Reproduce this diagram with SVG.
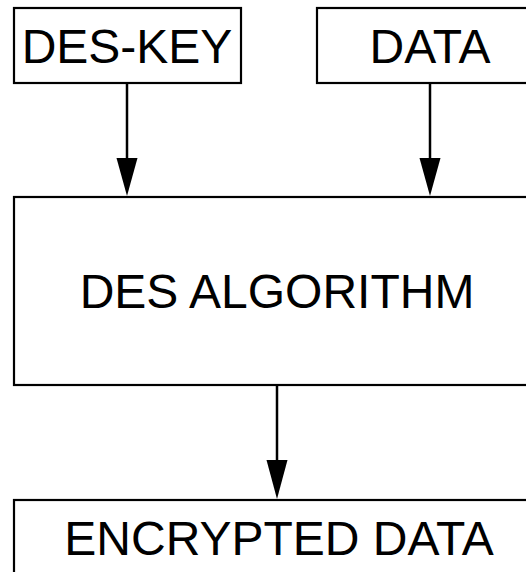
<svg xmlns="http://www.w3.org/2000/svg" width="526" height="572" viewBox="0 0 526 572">
  <style>
    .box { fill: #ffffff; stroke: #000000; stroke-width: 2.2; }
    .label { font-family: "Liberation Sans", Arial, sans-serif; font-size: 48px; fill: #000000; text-anchor: middle; }
    .wire { stroke: #000000; stroke-width: 2.5; fill: none; }
    .head { fill: #000000; stroke: none; }
  </style>
  <rect width="526" height="572" fill="#ffffff"/>

  <g id="des-key">
    <rect class="box" x="14" y="8" width="227" height="75"/>
    <text class="label" x="127" y="63">DES-KEY</text>
  </g>

  <g id="data">
    <rect class="box" x="317" y="8" width="220" height="75"/>
    <text class="label" x="430" y="63">DATA</text>
  </g>

  <g id="des-algorithm">
    <rect class="box" x="14" y="197" width="530" height="188"/>
    <text class="label" x="277" y="308">DES ALGORITHM</text>
  </g>

  <g id="encrypted-data">
    <rect class="box" x="14" y="500" width="530" height="90"/>
    <text class="label" x="279" y="555">ENCRYPTED DATA</text>
  </g>

  <g id="connectors">
    <line class="wire" x1="127" y1="83" x2="127" y2="160"/>
    <polygon class="head" points="116.5,158 137.5,158 127,196"/>
    <line class="wire" x1="430" y1="83" x2="430" y2="160"/>
    <polygon class="head" points="419.5,158 440.5,158 430,196"/>
    <line class="wire" x1="277" y1="385" x2="277" y2="462"/>
    <polygon class="head" points="266.5,460 287.5,460 277,499"/>
  </g>
</svg>
